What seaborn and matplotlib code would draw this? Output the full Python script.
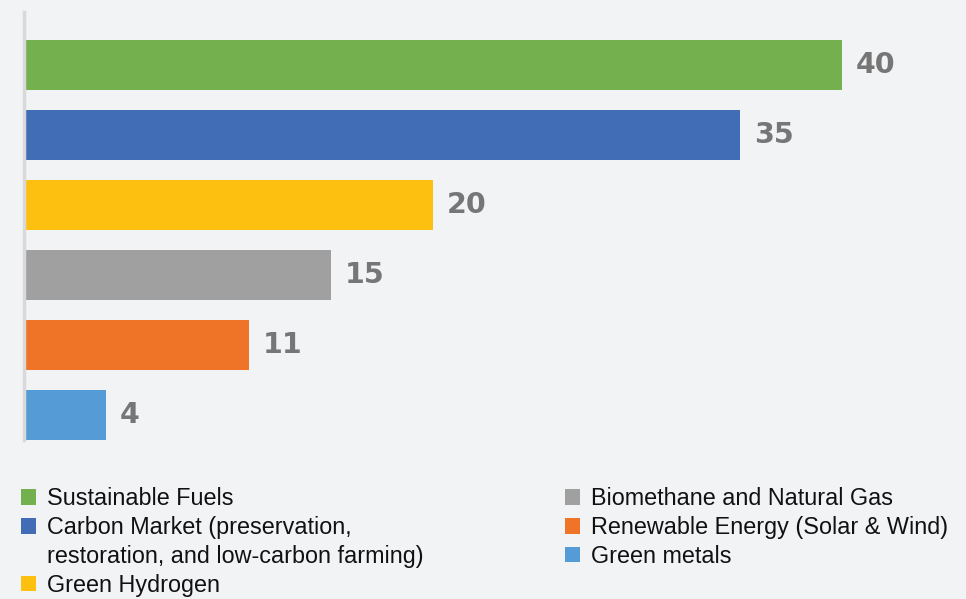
import matplotlib
matplotlib.use("Agg")
import matplotlib.pyplot as plt
from matplotlib.patches import Patch
import seaborn as sns
import pandas as pd

categories = ["Sustainable Fuels", "Carbon Market", "Green Hydrogen",
              "Biomethane and Natural Gas", "Renewable Energy", "Green metals"]
values = [40, 35, 20, 15, 11, 4]
legend_labels = ["Sustainable Fuels",
                 "Carbon Market (preservation,",
                 "restoration, and low-carbon farming)",
                 "Green Hydrogen",
                 "Biomethane and Natural Gas",
                 "Renewable Energy (Solar & Wind)",
                 "Green metals"]
colors = ["#75B04E", "#416DB7", "#FDC010", "#A0A0A0", "#EF7428", "#559BD6"]

bg = "#F2F3F5"
sns.set_theme(style="white")
plt.rcParams["font.family"] = ["Liberation Sans", "DejaVu Sans"]

df = pd.DataFrame({"cat": categories, "val": values})

fig = plt.figure(figsize=(9.66, 5.99), dpi=100, facecolor=bg)
ax = fig.add_axes([24 / 966, 1 - 440 / 599, 1 - 24 / 966, (440 - 12) / 599])
ax.set_facecolor(bg)

sns.barplot(data=df, y="cat", x="val", hue="cat", palette=colors,
            order=categories, hue_order=categories, orient="h",
            width=0.715, legend=False, ax=ax, saturation=1, linewidth=0)

ax.set_xlim(0, 942 / 20.45)
ax.set_ylim(5.36, -0.765)
ax.set_xlabel("")
ax.set_ylabel("")
ax.set_xticks([])
ax.set_yticks([])
for s in ["top", "right", "bottom"]:
    ax.spines[s].set_visible(False)
ax.spines["left"].set_color("#D9D9D9")
ax.spines["left"].set_linewidth(2.5)

for cont in ax.containers:
    ax.bar_label(cont, labels=[f"{v:g}" for v in cont.datavalues],
                 padding=10, fontsize=20.5, fontweight="heavy",
                 family=["DejaVu Sans"], color="#767676")

handles = [Patch(facecolor=c, edgecolor="none") for c in colors]
blank = Patch(facecolor="none", edgecolor="none")
left_handles = [handles[0], handles[1], blank, handles[2]]
common = dict(frameon=False, fontsize=16.8, handlelength=0.65, handleheight=0.65,
              handletextpad=0.48, labelspacing=0.255, borderpad=0, borderaxespad=0,
              loc="upper left")
leg1 = fig.legend(left_handles, legend_labels[:4],
                  bbox_to_anchor=(21 / 966, 1 - 487 / 599), **common)
leg2 = fig.legend(handles[3:], legend_labels[4:],
                  bbox_to_anchor=(565 / 966, 1 - 487 / 599), **common)
for t in leg1.get_texts() + leg2.get_texts():
    t.set_color("#111111")

fig.savefig("out.png", dpi=100, facecolor=bg)
